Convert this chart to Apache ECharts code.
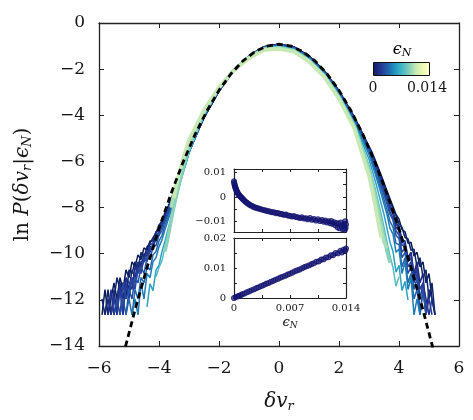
<!DOCTYPE html>
<html>
<head>
<meta charset="utf-8">
<script src="https://cdn.jsdelivr.net/npm/echarts@6/dist/echarts.min.js"></script>
<style>
html, body { margin: 0; padding: 0; background: #fff; }
#chart { width: 473px; height: 420px; }
</style>
</head>
<body>
<div id="chart"></div>
<script>
// δv_r sample points: noisy left tail, smooth core, noisy right tail
var dvLeft = [-5.9,-5.8,-5.7,-5.6,-5.5,-5.4,-5.3,-5.2,-5.1,-5.0,-4.9,-4.8,-4.7,-4.6,-4.5,-4.4,-4.3,-4.2,-4.1,-4.0,-3.9,-3.8,-3.7,-3.6,-3.5,-3.4,-3.3,-3.2,-3.1];
var dvCore = [-3,-2.5,-2,-1.5,-1,-0.5,0,0.5,1,1.5,2,2.5,3];
var dvRight = [3.1,3.2,3.3,3.4,3.5,3.6,3.7,3.8,3.9,4.0,4.1,4.2,4.3,4.4,4.5,4.6,4.7,4.8,4.9,5.0,5.1,5.2,5.3];
var dv = dvLeft.concat(dvCore, dvRight);

// epsilon_N of each curve
var epsLines = [0, 0.0005, 0.001, 0.0015, 0.002, 0.0025, 0.003, 0.0038, 0.0045, 0.006, 0.0075, 0.009, 0.0098, 0.0105];
var EPS_MAX = 0.014;

// ln P(dv_r | eps_N), one array per curve (left | core | right), null = no data
var lnP00 = [-12.65,-11.55,-12.65,-11.96,-11.26,-11.96,-11.04,-11.55,-10.70,-11.04,-10.35,-10.57,-10.05,-10.25,-9.75,-9.85,-9.45,-9.45,-9.05,-8.95,-8.55,-8.30,-8.00,-7.70,-7.35,-7.00,-6.62,-6.25,-5.90,
  -5.55,-4.10,-2.95,-2.05,-1.42,-1.03,-0.91,-1.04,-1.43,-2.06,-2.93,-4.05,-5.35,
  -5.60,-5.92,-6.25,-6.58,-6.92,-7.28,-7.62,-7.95,-8.30,-8.50,-8.95,-9.05,-9.55,-9.50,-10.10,-9.94,-10.57,-10.35,-11.26,-10.86,-11.96,-12.65,null];
var lnP01 = [-11.96,-12.65,-11.55,-12.65,-11.96,-11.04,-11.55,-11.26,-11.96,-10.70,-10.86,-10.35,-10.70,-9.94,-10.17,-9.70,-9.55,-9.30,-9.10,-8.75,-8.62,-8.20,-8.02,-7.62,-7.32,-6.95,-6.60,-6.22,-5.88,
  -5.54,-4.10,-2.95,-2.05,-1.42,-1.03,-0.91,-1.04,-1.43,-2.06,-2.94,-4.06,-5.37,
  -5.66,-5.98,-6.30,-6.66,-6.98,-7.38,-7.70,-8.05,-8.35,-8.70,-8.85,-9.30,-9.35,-9.85,-9.80,-10.57,-10.17,-11.04,-10.70,-11.96,-11.26,-12.65,null];
var lnP02 = [null,-12.65,-11.96,-12.65,-11.55,-12.65,-11.26,-11.96,-11.04,-11.55,-10.70,-11.04,-10.35,-10.57,-10.00,-10.10,-9.60,-9.55,-9.10,-8.95,-8.55,-8.40,-7.95,-7.75,-7.35,-7.05,-6.65,-6.30,-5.95,
  -5.57,-4.08,-2.94,-2.05,-1.43,-1.04,-0.92,-1.05,-1.44,-2.07,-2.95,-4.08,-5.40,
  -5.72,-6.05,-6.40,-6.75,-7.12,-7.45,-7.90,-8.15,-8.65,-8.80,-9.40,-9.45,-10.17,-9.94,-10.86,-10.35,-11.26,-10.86,-12.65,-11.55,-11.96,-12.65,null];
var lnP03 = [null,null,-12.65,-11.55,-12.65,-11.96,-11.26,-12.65,-11.04,-11.26,-11.55,-10.57,-10.86,-10.35,-10.25,-9.90,-9.70,-9.70,-9.20,-9.10,-8.70,-8.45,-8.05,-7.80,-7.40,-7.08,-6.70,-6.32,-5.98,
  -5.58,-4.08,-2.94,-2.05,-1.43,-1.04,-0.92,-1.05,-1.45,-2.08,-2.96,-4.10,-5.42,
  -5.76,-6.08,-6.45,-6.80,-7.18,-7.52,-7.95,-8.22,-8.72,-8.90,-9.50,-9.55,-10.35,-9.94,-11.04,-10.57,-11.55,-11.26,-11.96,-12.65,-11.96,null,null];
var lnP04 = [null,null,null,-12.65,-11.96,-12.65,-11.55,-12.65,-11.26,-11.96,-11.04,-11.26,-10.57,-10.86,-10.17,-10.35,-9.75,-9.80,-9.25,-9.20,-8.75,-8.55,-8.10,-7.85,-7.45,-7.10,-6.72,-6.35,-6.00,
  -5.60,-4.08,-2.93,-2.04,-1.43,-1.04,-0.93,-1.06,-1.46,-2.09,-2.98,-4.12,-5.45,
  -5.80,-6.12,-6.50,-6.85,-7.25,-7.60,-8.05,-8.30,-8.85,-9.00,-9.65,-9.60,-10.35,-10.17,-11.04,-10.70,-11.96,-11.26,-12.65,-11.96,-12.65,null,null];
var lnP05 = [null,null,null,null,-12.65,-11.96,-12.65,-11.26,-11.96,-11.55,-11.04,-11.55,-10.70,-10.57,-10.35,-10.10,-9.94,-9.55,-9.45,-9.00,-8.85,-8.45,-8.20,-7.90,-7.50,-7.15,-6.75,-6.38,-6.01,
  -5.60,-4.07,-2.92,-2.04,-1.43,-1.05,-0.94,-1.07,-1.48,-2.11,-3.00,-4.15,-5.50,
  -5.86,-6.20,-6.58,-6.95,-7.35,-7.72,-8.18,-8.45,-9.00,-9.20,-9.94,-9.75,-10.57,-10.35,-11.26,-10.86,-12.65,-11.55,-12.65,null,null,null,null];
var lnP06 = [null,null,null,null,null,null,-12.65,-11.96,-12.65,-11.55,-11.96,-11.04,-11.26,-10.57,-10.86,-10.17,-10.25,-9.70,-9.65,-9.20,-9.00,-8.60,-8.30,-7.95,-7.55,-7.18,-6.80,-6.40,-6.02,
  -5.60,-4.05,-2.90,-2.03,-1.43,-1.05,-0.95,-1.08,-1.49,-2.12,-3.02,-4.18,-5.55,
  -5.92,-6.28,-6.65,-7.05,-7.45,-7.85,-8.30,-8.55,-9.20,-9.35,-10.17,-9.94,-10.86,-10.57,-11.55,-11.04,-12.65,-11.55,-12.65,null,null,null,null];
var lnP07 = [null,null,null,null,null,null,null,null,-12.65,-11.96,-12.65,-11.55,-11.96,-11.04,-11.26,-10.57,-10.70,-10.05,-9.90,-9.45,-9.20,-8.78,-8.42,-8.05,-7.65,-7.25,-6.85,-6.44,-6.05,
  -5.61,-4.03,-2.88,-2.02,-1.43,-1.06,-0.96,-1.10,-1.51,-2.14,-3.05,-4.22,-5.62,
  -6.00,-6.40,-6.80,-7.22,-7.65,-8.08,-8.60,-8.85,-9.55,-9.60,-10.57,-10.17,-11.26,-10.86,-11.96,-11.55,-12.65,null,null,null,null,null,null];
var lnP08 = [null,null,null,null,null,null,null,null,null,null,-12.65,-11.96,-12.65,-11.26,-11.96,-10.86,-11.04,-10.35,-10.17,-9.70,-9.40,-8.95,-8.55,-8.15,-7.75,-7.30,-6.90,-6.48,-6.08,
  -5.62,-4.02,-2.87,-2.02,-1.44,-1.07,-0.98,-1.11,-1.52,-2.16,-3.07,-4.25,-5.70,
  -6.10,-6.50,-6.95,-7.38,-7.85,-8.30,-8.90,-9.15,-9.94,-9.80,-10.86,-10.35,-11.55,-11.04,-12.65,-11.96,-12.65,null,null,null,null,null,null];
var lnP09 = [null,null,null,null,null,null,null,null,null,null,null,null,null,null,null,-12.30,-11.30,-11.60,-10.70,-10.50,-9.90,-9.45,-8.95,-8.45,-7.95,-7.45,-6.95,-6.50,-6.08,
  -5.60,-3.98,-2.85,-2.02,-1.45,-1.09,-1.01,-1.14,-1.56,-2.20,-3.12,-4.32,-5.90,
  -6.35,-6.80,-7.30,-7.80,-8.30,-8.90,-9.50,-9.90,-10.80,-10.50,-11.60,-11.20,-12.00,null,null,null,null,null,null,null,null,null,null];
var lnP10 = [null,null,null,null,null,null,null,null,null,null,null,null,null,null,null,null,null,null,-11.00,-10.60,-10.30,-9.70,-9.20,-8.60,-8.05,-7.50,-6.98,-6.50,-6.05,
  -5.55,-3.93,-2.83,-2.02,-1.47,-1.11,-1.04,-1.17,-1.60,-2.25,-3.18,-4.40,-6.15,
  -6.65,-7.15,-7.70,-8.25,-8.85,-9.50,-10.10,-10.60,-11.40,-11.00,null,null,null,null,null,null,null,null,null,null,null,null,null];
var lnP11 = [null,null,null,null,null,null,null,null,null,null,null,null,null,null,null,null,null,null,null,null,null,-9.90,-9.30,-8.60,-7.95,-7.35,-6.80,-6.30,-5.85,
  -5.40,-3.88,-2.82,-2.03,-1.49,-1.13,-1.07,-1.20,-1.63,-2.28,-3.22,-4.45,-6.35,
  -6.90,-7.45,-8.05,-8.65,-9.30,-9.90,-10.40,null,null,null,null,null,null,null,null,null,null,null,null,null,null,null,null];
var lnP12 = [null,null,null,null,null,null,null,null,null,null,null,null,null,null,null,null,null,null,null,null,null,null,null,-8.00,-7.35,-6.85,-6.40,-5.95,-5.55,
  -5.15,-3.80,-2.80,-2.04,-1.51,-1.15,-1.10,-1.22,-1.65,-2.30,-3.25,-4.48,-6.50,
  -7.05,-7.65,-8.30,-8.90,-9.50,-9.75,null,null,null,null,null,null,null,null,null,null,null,null,null,null,null,null,null];
var lnP13 = [null,null,null,null,null,null,null,null,null,null,null,null,null,null,null,null,null,null,null,null,null,null,null,null,-7.60,-6.95,-6.40,-5.90,-5.45,
  -5.05,-3.76,-2.78,-2.05,-1.53,-1.17,-1.13,-1.25,-1.68,-2.33,-3.30,-4.55,-6.65,
  -7.25,-7.90,-8.60,-9.30,null,null,null,null,null,null,null,null,null,null,null,null,null,null,null,null,null,null,null];
var lnPLines = [lnP00, lnP01, lnP02, lnP03, lnP04, lnP05, lnP06, lnP07, lnP08, lnP09, lnP10, lnP11, lnP12, lnP13];

// dashed Gaussian reference
var gaussX = [-5.2,-4.8,-4.4,-4.0,-3.6,-3.2,-2.8,-2.4,-2.0,-1.6,-1.2,-0.8,-0.4,0,0.4,0.8,1.2,1.6,2.0,2.4,2.8,3.2,3.6,4.0,4.4,4.8,5.2];
var gaussY = [-14.44,-12.44,-10.60,-8.92,-7.40,-6.04,-4.84,-3.80,-2.92,-2.20,-1.64,-1.24,-1.00,-0.92,-1.00,-1.24,-1.64,-2.20,-2.92,-3.80,-4.84,-6.04,-7.40,-8.92,-10.60,-12.44,-14.44];

// upper inset
var topEps = [0,0.00003,0.00006,0.0001,0.00014,0.00018,0.00022,0.00027,0.00032,0.00037,0.00043,0.0005,0.00057,0.00065,0.00073,0.00082,0.00091,0.001,0.0011,0.0012,0.00132,0.00145,0.00158,0.00172,0.00187,0.00203,0.0022,0.00238,0.00256,0.00275,0.00295,0.00315,0.00335,0.00355,0.00378,0.004,0.00425,0.0045,0.00475,0.005,0.00525,0.0055,0.00575,0.006,0.00625,0.0065,0.00675,0.007,0.00725,0.0075,0.00775,0.008,0.00825,0.0085,0.00875,0.009,0.00925,0.0095,0.00975,0.01,0.01025,0.0105,0.01075,0.011,0.0112,0.0114,0.0116,0.0118,0.012,0.01215,0.0123,0.0125,0.01265,0.0128,0.01295,0.0131,0.0132,0.01335,0.01345,0.0136,0.0137,0.0138,0.0139,0.014,0.01395,0.01385];
var topVal = [0.0064,0.0058,0.0052,0.0047,0.0042,0.0038,0.0034,0.003,0.0026,0.0022,0.0018,0.0014,0.0011,0.0007,0.0004,0.0001,-0.0002,-0.0005,-0.0008,-0.0012,-0.0016,-0.002,-0.0023,-0.0026,-0.003,-0.0033,-0.0036,-0.0039,-0.0042,-0.0044,-0.0046,-0.0048,-0.005,-0.0052,-0.0054,-0.0056,-0.0058,-0.006,-0.0062,-0.0063,-0.0066,-0.0066,-0.0069,-0.007,-0.0073,-0.0072,-0.0076,-0.0077,-0.008,-0.0078,-0.0082,-0.0083,-0.0086,-0.0083,-0.0088,-0.0087,-0.0091,-0.0086,-0.0093,-0.009,-0.0096,-0.0091,-0.0098,-0.0094,-0.0101,-0.0096,-0.0104,-0.0099,-0.0107,-0.0098,-0.011,-0.0103,-0.0115,-0.0106,-0.0124,-0.0109,-0.0128,-0.0104,-0.0118,-0.0132,-0.011,-0.012,-0.0099,-0.0112,-0.0126,-0.0134];

// lower inset
var botEps = [0,0.0002,0.0004,0.0006,0.0008,0.001,0.0013,0.0016,0.0019,0.0022,0.0025,0.0028,0.0031,0.0034,0.0037,0.004,0.0043,0.0046,0.0049,0.0052,0.0055,0.0058,0.0061,0.0064,0.0067,0.007,0.0073,0.0076,0.0079,0.0082,0.0085,0.0088,0.0091,0.0094,0.0097,0.01,0.0103,0.0106,0.0109,0.0112,0.0115,0.0118,0.0121,0.0124,0.0127,0.013,0.0133,0.0135,0.0137,0.0139,0.014];
var botVal = [0,0.0003,0.0005,0.0007,0.0009,0.0012,0.0015,0.0019,0.0022,0.0026,0.0029,0.0033,0.0036,0.004,0.0043,0.0047,0.005,0.0054,0.0057,0.0061,0.0064,0.0068,0.0071,0.0074,0.0078,0.0081,0.0085,0.0089,0.0092,0.0095,0.0099,0.0103,0.0106,0.0109,0.0113,0.0116,0.0121,0.0122,0.0128,0.0129,0.0135,0.0136,0.0142,0.0143,0.015,0.0149,0.0157,0.0152,0.0161,0.0158,0.0165];

// YlGnBu reversed
var cmapStops = ['#081d58','#253494','#225ea8','#1d91c0','#41b6c4','#7fcdbb','#c7e9b4','#edf8b1','#ffffd9'];

var SERIF = '"DejaVu Serif", serif';
var INK = '#161616';

function hexRgb(h) {
    return [parseInt(h.substr(1, 2), 16), parseInt(h.substr(3, 2), 16), parseInt(h.substr(5, 2), 16)];
}
function cmap(t) {
    t = Math.max(0, Math.min(1, t));
    var n = cmapStops.length - 1;
    var k = Math.min(n - 1, Math.floor(t * n));
    var f = t * n - k;
    var a = hexRgb(cmapStops[k]), b = hexRgb(cmapStops[k + 1]);
    return 'rgb(' + [0, 1, 2].map(function (j) { return Math.round(a[j] + (b[j] - a[j]) * f); }).join(',') + ')';
}
function minus(v) {
    return v < 0 ? '\u2212' + (-v) : String(v);
}
function zip(xs, ys) {
    var out = [];
    for (var i = 0; i < xs.length; i++) {
        if (ys[i] !== null) out.push([xs[i], ys[i]]);
    }
    return out;
}

var mathRich = {
    t: { fontFamily: SERIF, fontSize: 20, color: INK },
    i: { fontFamily: SERIF, fontSize: 20, fontStyle: 'italic', color: INK },
    s: { fontFamily: SERIF, fontSize: 13, fontStyle: 'italic', color: INK, padding: [9, 0, 0, 0] }
};
var smallRich = {
    i: { fontFamily: SERIF, fontSize: 13, fontStyle: 'italic', color: INK },
    s: { fontFamily: SERIF, fontSize: 9, fontStyle: 'italic', color: INK, padding: [6, 0, 0, 0] }
};
var cbRich = {
    i: { fontFamily: SERIF, fontSize: 16, fontStyle: 'italic', color: INK },
    s: { fontFamily: SERIF, fontSize: 11, fontStyle: 'italic', color: INK, padding: [7, 0, 0, 0] }
};

function frameAxis(pos, gridIndex, opt) {
    var a = {
        type: 'value', gridIndex: gridIndex, position: pos,
        min: opt.min, max: opt.max, interval: opt.interval,
        splitLine: { show: false },
        axisLine: { show: true, onZero: false, lineStyle: { color: '#222', width: opt.lw || 1.3 } },
        axisTick: { show: true, inside: true, length: opt.tick, lineStyle: { color: '#222', width: 1 } },
        axisLabel: { show: false }
    };
    if (opt.tickValues) a.axisTick.customValues = opt.tickValues;
    if (opt.labels) {
        a.axisLabel = {
            show: true, fontFamily: SERIF, fontSize: opt.fontSize, color: INK,
            margin: opt.margin, formatter: minus, hideOverlap: false,
            showMinLabel: true, showMaxLabel: true
        };
        if (opt.labelValues) a.axisLabel.customValues = opt.labelValues;
    }
    return a;
}

var mainX = { min: -6, max: 6, interval: 2, tick: 5, fontSize: 17, margin: 14 };
var mainY = { min: -14, max: 0, interval: 2, tick: 5, fontSize: 17, margin: 14 };
var in1X = { min: 0, max: 0.014, interval: 0.0035, tick: 3, lw: 1.2 };
var in1Y = { min: -0.0143, max: 0.0114, tick: 3, lw: 1.2, fontSize: 10, margin: 8,
             tickValues: [-0.01, -0.005, 0, 0.005, 0.01], labelValues: [-0.01, 0, 0.01] };
var in2X = { min: 0, max: 0.014, interval: 0.0035, tick: 3, lw: 1.2, fontSize: 10, margin: 5,
             labelValues: [0, 0.007, 0.014] };
var in2Y = { min: 0, max: 0.02, interval: 0.005, tick: 3, lw: 1.2, fontSize: 10, margin: 8,
             labelValues: [0, 0.01, 0.02] };

var xAxes = [
    frameAxis('bottom', 0, Object.assign({ labels: true }, mainX)),
    frameAxis('top', 0, mainX),
    frameAxis('bottom', 1, in1X),
    frameAxis('top', 1, in1X),
    frameAxis('bottom', 2, Object.assign({ labels: true }, in2X)),
    frameAxis('top', 2, in2X)
];
var yAxes = [
    frameAxis('left', 0, Object.assign({ labels: true }, mainY)),
    frameAxis('right', 0, mainY),
    frameAxis('left', 1, Object.assign({ labels: true }, in1Y)),
    frameAxis('right', 1, in1Y),
    frameAxis('left', 2, Object.assign({ labels: true }, in2Y)),
    frameAxis('right', 2, in2Y)
];

xAxes[0].name = '{i|δv}{s|r}';
xAxes[0].nameLocation = 'middle';
xAxes[0].nameGap = 45;
xAxes[0].nameTextStyle = { rich: mathRich };

yAxes[0].name = '{t|ln }{i|P}{t|(}{i|δv}{s|r}{t||}{i|ϵ}{s|N}{t|)}';
yAxes[0].nameLocation = 'middle';
yAxes[0].nameGap = 65;
yAxes[0].nameTextStyle = { rich: mathRich };

xAxes[4].name = '{i|ϵ}{s|N}';
xAxes[4].nameLocation = 'middle';
xAxes[4].nameGap = 17;
xAxes[4].nameTextStyle = { rich: smallRich };

var series = [];
lnPLines.forEach(function (arr, i) {
    var light = epsLines[i] / EPS_MAX > 0.6;
    series.push({
        type: 'line', xAxisIndex: 0, yAxisIndex: 0,
        data: zip(dv, arr), symbol: 'none', silent: true,
        lineStyle: { color: cmap(epsLines[i] / EPS_MAX), width: light ? 3.4 : 1.5 },
        z: 2 + i
    });
});
series.push({
    type: 'line', xAxisIndex: 0, yAxisIndex: 0,
    data: zip(gaussX, gaussY), symbol: 'none', silent: true,
    lineStyle: { color: '#000', width: 2.8, type: [6, 4] },
    z: 30
});
[[2, 2, topEps, topVal], [4, 4, botEps, botVal]].forEach(function (s) {
    series.push({
        type: 'scatter', xAxisIndex: s[0], yAxisIndex: s[1],
        data: zip(s[2], s[3]), symbol: 'circle', symbolSize: 5, silent: true,
        itemStyle: { color: 'rgba(24,24,115,0.75)', borderColor: '#141470', borderWidth: 1.1 },
        z: 40
    });
});

var gradStops = cmapStops.map(function (c, i) { return { offset: i / (cmapStops.length - 1), color: c }; });

var chart = echarts.init(document.getElementById('chart'));
chart.setOption({
    animation: false,
    backgroundColor: '#fff',
    grid: [
        { left: 99, top: 23, width: 360, height: 323 },
        { left: 234, top: 169, width: 112, height: 63 },
        { left: 234, top: 238, width: 112, height: 60 }
    ],
    xAxis: xAxes,
    yAxis: yAxes,
    series: series,
    graphic: [
        {
            type: 'rect', left: 373, top: 62, z: 50,
            shape: { width: 56, height: 13 },
            style: { fill: new echarts.graphic.LinearGradient(0, 0, 1, 0, gradStops), stroke: '#111', lineWidth: 1 }
        },
        {
            type: 'text', x: 402, y: 50, z: 50,
            style: { text: '{i|ϵ}{s|N}', rich: cbRich, align: 'center', verticalAlign: 'middle' }
        },
        {
            type: 'text', x: 373, y: 88, z: 50,
            style: { text: '0', fontFamily: SERIF, fontSize: 14, fill: INK, align: 'center', verticalAlign: 'middle' }
        },
        {
            type: 'text', x: 427, y: 88, z: 50,
            style: { text: '0.014', fontFamily: SERIF, fontSize: 14, fill: INK, align: 'center', verticalAlign: 'middle' }
        }
    ]
});
</script>
</body>
</html>
